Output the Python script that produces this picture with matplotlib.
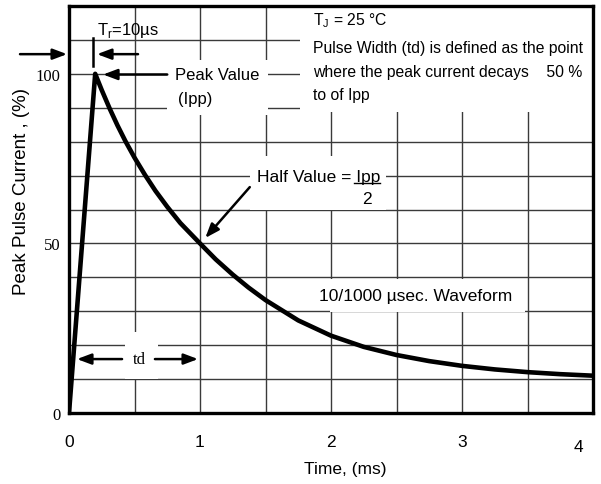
import matplotlib
matplotlib.use("Agg")
import matplotlib.pyplot as plt
import matplotlib.transforms as mtransforms
from matplotlib.patches import Rectangle

# waveform (time in ms, current in % of Ipp)
time_ms = [0.0, 0.2, 0.25, 0.31, 0.37, 0.43, 0.5, 0.58, 0.66, 0.75, 0.85, 1.0,
           1.12, 1.25, 1.37, 1.5, 1.75, 2.0, 2.25, 2.5, 2.75, 3.0, 3.25, 3.5, 3.75, 4.0]
current_pct = [0.0, 100.0, 95.2, 89.8, 84.8, 80.2, 75.3, 70.2, 65.5, 60.8, 56.0, 50.0,
               45.3, 40.8, 37.0, 33.3, 27.3, 22.8, 19.5, 17.1, 15.3, 13.9, 12.85, 12.05, 11.45, 11.0]

x_ticks = [0, 1, 2, 3, 4]
y_ticks = [0, 50, 100]

SANS = "Liberation Sans"
SERIF = "Liberation Serif"
plt.rcParams["font.family"] = [SANS, "DejaVu Sans"]
plt.rcParams["mathtext.fontset"] = "custom"
plt.rcParams["mathtext.rm"] = SANS

fig = plt.figure(figsize=(6.01, 4.85), dpi=100)
ax = fig.add_axes([69 / 601, 71 / 485, 524 / 601, 407 / 485])

ax.set_xlim(0, 4)
ax.set_ylim(0, 120)
ax.set_xticks([i * 0.5 for i in range(9)], minor=True)
ax.set_yticks(range(0, 121, 10), minor=True)
ax.set_xticks(x_ticks)
ax.set_yticks(y_ticks)
ax.set_xticklabels([str(v) for v in x_ticks], fontsize=12.5, family=SANS)
ax.set_yticklabels([str(v) for v in y_ticks], fontsize=12, family=SERIF)
ax.tick_params(which="both", length=0)
ax.tick_params(axis="x", pad=15)
ax.tick_params(axis="y", pad=6)
# the "4" sits a bit inside and lower in the original
last = ax.get_xticklabels()[-1]
last.set_transform(last.get_transform()
                   + mtransforms.ScaledTranslation(-15 / 100, -5 / 100, fig.dpi_scale_trans))

ax.set_axisbelow(True)
ax.grid(which="both", color="#3a3a3a", lw=1.0)
for s in ax.spines.values():
    s.set_linewidth(2.4)
    s.set_color("black")

ax.plot(time_ms, current_pct, color="black", lw=3.3, solid_joinstyle="round", zorder=4)

# white boxes behind the annotation texts
def blank(x0, x1, y0, y1):
    ax.add_patch(Rectangle((x0, y0), x1 - x0, y1 - y0, facecolor="white",
                           edgecolor="none", zorder=2))

blank(1.76, 4.0, 88.7, 119.3)
blank(0.75, 1.52, 88.0, 104.0)
blank(1.38, 2.42, 60.0, 75.7)
blank(1.99, 3.48, 29.8, 39.5)
blank(0.43, 0.68, 10.0, 23.9)

arrow = dict(arrowstyle="-|>,head_length=0.85,head_width=0.32", color="black",
             lw=1.8, shrinkA=0, shrinkB=0)

# rise time marker
ax.text(0.21, 113, r"T$_\mathregular{r}$=10µs", fontsize=12, ha="left", va="center", zorder=5)
ax.plot([0.185, 0.185], [102.3, 110.6], color="black", lw=1.8, zorder=5)
ax.annotate("", xy=(-0.015, 105.8), xytext=(-0.374, 105.8), arrowprops=arrow,
            annotation_clip=False, zorder=5)
ax.annotate("", xy=(0.214, 105.8), xytext=(0.527, 105.8), arrowprops=arrow, zorder=5)

# peak value
ax.annotate("", xy=(0.26, 99.8), xytext=(0.75, 99.8), arrowprops=arrow, zorder=5)
ax.text(0.81, 99.8, "Peak Value", fontsize=12, ha="left", va="center", zorder=5)
ax.text(0.835, 92.6, "(Ipp)", fontsize=12, ha="left", va="center", zorder=5)

# conditions
note_x = 1.86
ax.text(note_x, 116.0, r"T$_\mathregular{J}$ = 25 °C", fontsize=11.3, ha="left", va="center", zorder=5)
ax.text(note_x, 107.8, "Pulse Width (td) is defined as the point", fontsize=11.3,
        ha="left", va="center", zorder=5)
ax.text(note_x, 100.7, "where the peak current decays    50 %", fontsize=11.3,
        ha="left", va="center", zorder=5)
ax.text(note_x, 94.0, "to of Ipp", fontsize=11.3, ha="left", va="center", zorder=5)

# half value, with "Ipp" underlined over the "2"
half = ax.text(1.435, 69.8, "Half Value = Ipp", fontsize=12.5, ha="left", va="center", zorder=5)
head = ax.text(1.435, 69.8, "Half Value = ", fontsize=12.5, ha="left", va="center", alpha=0)
fig.canvas.draw()
r = fig.canvas.get_renderer()
inv = ax.transData.inverted()
bb_all = half.get_window_extent(r)
bb_head = head.get_window_extent(r)
u0 = inv.transform((bb_head.x1 - 2, bb_all.y0))[0]
u1, uy = inv.transform((bb_all.x1, bb_all.y0 + 1))
head.remove()
ax.plot([u0, u1], [uy, uy], color="black", lw=1.0, zorder=5)
ax.text((u0 + u1) / 2, 63.2, "2", fontsize=12.5, ha="center", va="center", zorder=5)
ax.annotate("", xy=(1.04, 51.6), xytext=(1.38, 66.6), arrowprops=arrow, zorder=5)

# waveform name
ax.text(1.91, 34.6, "10/1000 µsec. Waveform", fontsize=12.5, ha="left", va="center", zorder=5)

# pulse width
ax.text(0.54, 15.9, "td", fontsize=12, family=SERIF, ha="center", va="center", zorder=5)
ax.annotate("", xy=(0.061, 15.9), xytext=(0.405, 15.9), arrowprops=arrow, zorder=5)
ax.annotate("", xy=(0.985, 15.9), xytext=(0.656, 15.9), arrowprops=arrow, zorder=5)

fig.text(22 / 601, 1 - 192 / 485, "Peak Pulse Current , (%)", rotation=90,
         fontsize=13.5, ha="center", va="center")
fig.text(345 / 601, 1 - 470 / 485, "Time, (ms)", fontsize=12.5, ha="center", va="center")

fig.savefig("out.png", dpi=100)
